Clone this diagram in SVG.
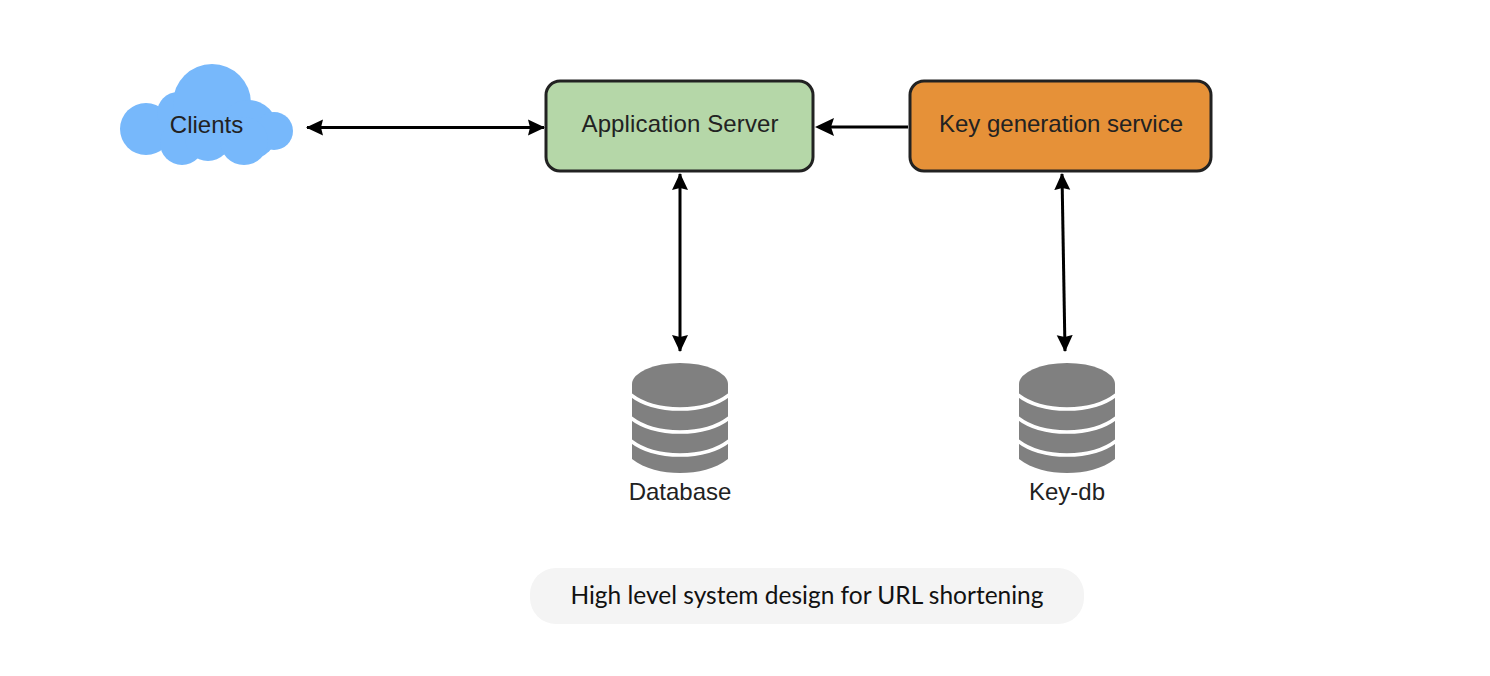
<svg xmlns="http://www.w3.org/2000/svg" width="1490" height="676" viewBox="0 0 1490 676">
<style>
text{font-family:"Liberation Sans",Arial,sans-serif;fill:#222;text-anchor:middle}
.lbl{font-size:24px}
.box{stroke:#222;stroke-width:3}
.c{stroke:#000;stroke-width:3;fill:none;marker-start:url(#a);marker-end:url(#a)}
.db{fill:#808080}
.gap{fill:none;stroke:#fff;stroke-width:3.500}
</style>
<defs>
<marker id="a" markerUnits="userSpaceOnUse" markerWidth="18" markerHeight="18" refX="16" refY="9" orient="auto-start-reverse"><path d="M0 1L17 9L0 17L2 9Z" fill="#000"/></marker>
<g id="cyl">
<path class="db" d="M-48 0V75C-35 85-18 89 0 89S35 85 48 75V0Z"/>
<ellipse class="db" cx="0" cy="0" rx="48" ry="21"/>
<path class="gap" d="M-49 11C-36 21-18 25 0 25S36 21 49 11"/>
<path class="gap" d="M-49 34C-36 44-18 48 0 48S36 44 49 34"/>
<path class="gap" d="M-49 57C-36 67-18 71 0 71S36 67 49 57"/>
</g>
</defs>
<rect width="1490" height="676" fill="#fff"/>
<g id="connectors">
<line class="c" x1="307" y1="127.500" x2="544" y2="127.500"/>
<path d="M908 127H830" stroke="#000" stroke-width="3" fill="none"/>
<path d="M815 127L834 118L831 127L834 136Z" fill="#000"/>
<line class="c" x1="680" y1="174" x2="680" y2="351"/>
<line class="c" x1="1062" y1="174" x2="1065" y2="351"/>
</g>
<g id="clients">
<g fill="#77b8fb">
<circle cx="146" cy="129" r="26"/><circle cx="178" cy="113" r="21"/><circle cx="212" cy="103" r="39"/>
<circle cx="248" cy="130" r="30"/><circle cx="274" cy="131" r="19"/><circle cx="182" cy="143" r="22"/>
<circle cx="208" cy="138" r="23"/><circle cx="244" cy="141" r="24"/>
</g>
<text class="lbl" x="206.500" y="133">Clients</text>
</g>
<g id="app-server">
<rect class="box" x="546" y="81" width="267" height="90" rx="14" fill="#b5d7a8"/>
<text class="lbl" x="680" y="131.500" textLength="197">Application Server</text>
</g>
<g id="key-service">
<rect class="box" x="910" y="81" width="301" height="90" rx="14" fill="#e69138"/>
<text class="lbl" x="1061" y="131.500" textLength="244">Key generation service</text>
</g>
<g id="database">
<use href="#cyl" x="680" y="384"/>
<text class="lbl" x="680" y="500">Database</text>
</g>
<g id="key-db">
<use href="#cyl" x="1067" y="384"/>
<text class="lbl" x="1067" y="500">Key-db</text>
</g>
<g id="caption">
<rect x="530" y="568" width="554" height="56" rx="26" fill="#f4f4f4"/>
<text x="807" y="604" font-size="24.500" style="font-family:Lato,'Liberation Sans',sans-serif;fill:#111">High level system design for URL shortening</text>
</g>
</svg>
